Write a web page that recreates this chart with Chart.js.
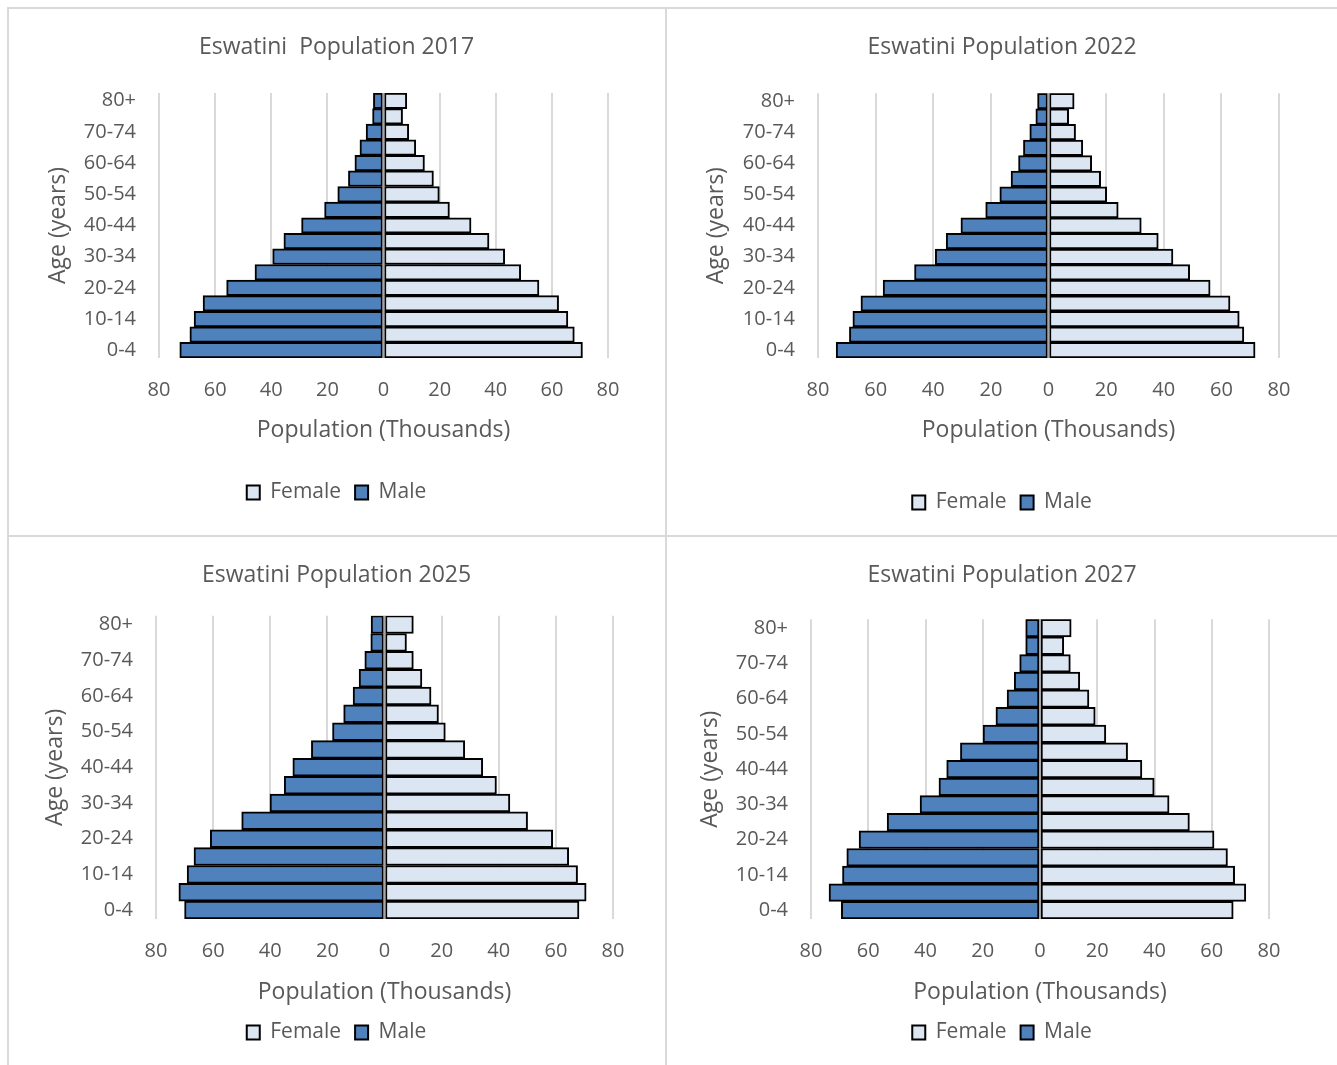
<!DOCTYPE html>
<html>
<head>
<meta charset="utf-8">
<script src="https://cdn.jsdelivr.net/npm/chart.js@4.4.1/dist/chart.umd.min.js"></script>
<style>
  html, body { margin: 0; padding: 0; background: #ffffff; }
  body { width: 1337px; height: 1065px; position: relative; overflow: hidden; }
  .panel { position: absolute; }
  .line { position: absolute; background: #d9d9d9; z-index: 5; }
</style>
</head>
<body>
<div class="line" style="left:7px;top:7px;width:1330px;height:2px;"></div>
<div class="line" style="left:7px;top:7px;width:2px;height:1058px;"></div>
<div class="line" style="left:665px;top:7px;width:2px;height:1058px;"></div>
<div class="line" style="left:7px;top:535px;width:1330px;height:2px;"></div>

<div class="panel" style="left:8px;top:8px;width:657px;height:527px;"><canvas id="c2017" width="657" height="527"></canvas></div>
<div class="panel" style="left:667px;top:8px;width:670px;height:527px;"><canvas id="c2022" width="670" height="527"></canvas></div>
<div class="panel" style="left:8px;top:537px;width:657px;height:528px;"><canvas id="c2025" width="657" height="528"></canvas></div>
<div class="panel" style="left:667px;top:537px;width:670px;height:528px;"><canvas id="c2027" width="670" height="528"></canvas></div>

<script>
// ---------- DATA (thousands) ----------
const ageGroups = ['0-4','5-9','10-14','15-19','20-24','25-29','30-34','35-39','40-44','45-49','50-54','55-59','60-64','65-69','70-74','75-79','80+'];
const xTicks = [-80, -60, -40, -20, 0, 20, 40, 60, 80];
const seriesNames = ['Female', 'Male'];

const titles = ['Eswatini  Population 2017', 'Eswatini Population 2022', 'Eswatini Population 2025', 'Eswatini Population 2027'];

const male2017   = [72.6, 69.0, 67.5, 64.3, 55.9, 45.8, 39.5, 35.5, 29.2, 21.0, 16.3, 12.5, 10.2, 8.4, 6.2, 3.9, 3.6];
const female2017 = [70.9, 68.0, 65.7, 62.4, 55.4, 48.9, 43.2, 37.6, 31.2, 23.5, 19.9, 17.8, 14.6, 11.5, 9.0, 6.8, 8.3];

const male2022   = [73.7, 69.1, 67.9, 65.1, 57.4, 46.5, 39.3, 35.5, 30.4, 21.8, 16.9, 13.0, 10.4, 8.7, 6.5, 4.4, 3.8];
const female2022 = [71.7, 67.8, 66.2, 63.0, 56.1, 49.0, 43.2, 38.1, 32.2, 24.2, 20.2, 18.1, 15.0, 11.9, 9.4, 7.0, 8.9];

const male2025   = [70.0, 72.0, 69.1, 66.7, 61.0, 50.0, 40.1, 35.1, 32.1, 25.6, 18.2, 14.3, 11.0, 8.9, 6.9, 4.8, 4.7];
const female2025 = [68.1, 70.6, 67.6, 64.5, 58.9, 50.1, 43.9, 39.2, 34.4, 28.1, 21.3, 18.9, 16.3, 13.1, 10.1, 7.7, 10.1];

const male2027   = [69.4, 73.7, 69.0, 67.5, 63.2, 53.4, 41.9, 35.3, 32.6, 27.8, 19.9, 15.4, 11.5, 9.0, 7.1, 5.0, 5.0];
const female2027 = [67.5, 71.9, 68.0, 65.5, 60.8, 52.2, 45.1, 39.9, 35.6, 30.6, 23.0, 19.3, 17.1, 13.9, 10.6, 8.3, 10.9];

// ---------- STYLE / LAYOUT ----------
const FONT = "'Open Sans', 'DejaVu Sans', sans-serif";
const TXT = '#595959';
const FEMALE_COLOR = '#dce6f2';
const MALE_COLOR = '#4f81bd';

const layouts = [
  { id: 'c2017', yAxisW: 151, rightW: 57, yTitlePad: 36.2, yTickPad: 23, titleTop: 25.2, titleBottom: 32.2, xTickPad: 20, xAxisH: 110, xTitlePadB: 24.2, padBottom: 22 },
  { id: 'c2022', yAxisW: 151, rightW: 58, yTitlePad: 35.2, yTickPad: 23, titleTop: 25.2, titleBottom: 32.5, xTickPad: 20, xAxisH: 120, xTitlePadB: 34.2, padBottom: 12 },
  { id: 'c2025', yAxisW: 148, rightW: 52, yTitlePad: 33.2, yTickPad: 23, titleTop: 24.2, titleBottom: 26.9, xTickPad: 20, xAxisH: 89, xTitlePadB: 2.2, padBottom: 12 },
  { id: 'c2027', yAxisW: 144, rightW: 68, yTitlePad: 29.2, yTickPad: 23, titleTop: 24.2, titleBottom: 30.5, xTickPad: 20, xAxisH: 89, xTitlePadB: 2.2, padBottom: 12 }
];

const zeroLine = {
  id: 'zeroLine',
  afterDatasetsDraw(chart) {
    const x = chart.scales.x.getPixelForValue(0);
    const ctx = chart.ctx;
    ctx.save();
    ctx.strokeStyle = '#a6a6a6';
    ctx.lineWidth = 2;
    ctx.beginPath();
    ctx.moveTo(x, chart.chartArea.top);
    ctx.lineTo(x, chart.chartArea.bottom);
    ctx.stroke();
    ctx.restore();
  }
};

function makeChart(L, title, female, male) {
  new Chart(document.getElementById(L.id), {
    type: 'bar',
    data: {
      labels: ageGroups,
      datasets: [
        { label: seriesNames[0], data: female, backgroundColor: FEMALE_COLOR, borderColor: '#000000', borderWidth: 2, borderSkipped: false },
        { label: seriesNames[1], data: male.map(v => -v), backgroundColor: MALE_COLOR, borderColor: '#000000', borderWidth: 2, borderSkipped: false }
      ]
    },
    options: {
      indexAxis: 'y',
      responsive: false,
      animation: false,
      devicePixelRatio: 1,
      barPercentage: 1.0,
      categoryPercentage: 1.0,
      layout: { padding: { left: 0, right: 0, top: 0, bottom: L.padBottom } },
      scales: {
        x: {
          stacked: true,
          min: xTicks[0],
          max: xTicks[xTicks.length - 1],
          afterBuildTicks: s => { s.ticks = xTicks.map(v => ({ value: v })); },
          grid: { color: '#d9d9d9', lineWidth: 2, drawTicks: false },
          border: { display: false },
          ticks: { color: TXT, font: { family: FONT, size: 20 }, padding: L.xTickPad, callback: v => Math.abs(v) },
          title: { display: true, text: 'Population (Thousands)', color: TXT, font: { family: FONT, size: 23 }, padding: { top: 0, bottom: L.xTitlePadB } },
          afterFit: s => { s.height = L.xAxisH; }
        },
        y: {
          stacked: true,
          reverse: true,
          grid: { display: false, drawTicks: false },
          border: { display: false },
          ticks: { color: TXT, font: { family: FONT, size: 20 }, padding: L.yTickPad, autoSkip: false,
                   callback: function(v, i) { return i % 2 === 0 ? this.getLabelForValue(v) : ''; } },
          title: { display: true, text: 'Age (years)', color: TXT, font: { family: FONT, size: 23 }, padding: { top: L.yTitlePad, bottom: 0 } },
          afterFit: s => { s.width = L.yAxisW; }
        },
        pad: {
          type: 'linear',
          position: 'right',
          display: true,
          grid: { display: false, drawTicks: false },
          border: { display: false },
          ticks: { display: false },
          afterFit: s => { s.width = L.rightW; }
        }
      },
      plugins: {
        title: { display: true, text: title, color: TXT, font: { family: FONT, size: 23, weight: 'normal' }, padding: { top: L.titleTop, bottom: L.titleBottom } },
        legend: {
          position: 'bottom',
          labels: { color: TXT, font: { family: FONT, size: 21 }, boxWidth: 13, boxHeight: 14, padding: 14 }
        },
        tooltip: { enabled: false }
      }
    },
    plugins: [zeroLine]
  });
}

makeChart(layouts[0], titles[0], female2017, male2017);
makeChart(layouts[1], titles[1], female2022, male2022);
makeChart(layouts[2], titles[2], female2025, male2025);
makeChart(layouts[3], titles[3], female2027, male2027);
</script>
</body>
</html>
